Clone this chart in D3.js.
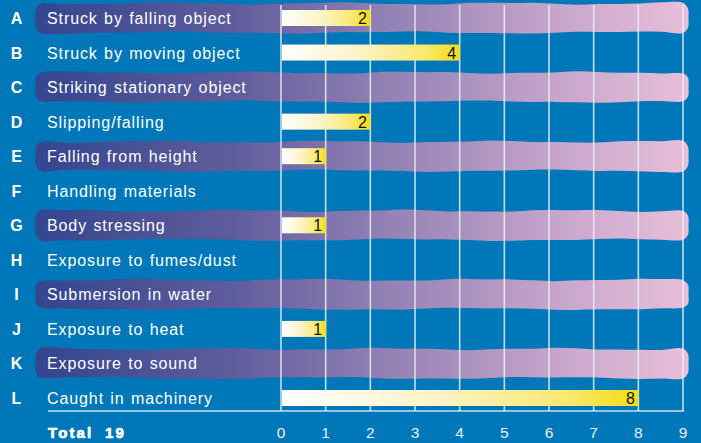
<!DOCTYPE html>
<html><head><meta charset="utf-8">
<script src="https://cdn.jsdelivr.net/npm/d3@7"></script>
<style>html,body{margin:0;padding:0;background:#0077b8;}svg{display:block;}</style>
</head><body>
<script>
const letters = ["A","B","C","D","E","F","G","H","I","J","K","L"];
const categories = ["Struck by falling object","Struck by moving object","Striking stationary object","Slipping/falling","Falling from height","Handling materials","Body stressing","Exposure to fumes/dust","Submersion in water","Exposure to heat","Exposure to sound","Caught in machinery"];
const values = [2,4,0,2,1,0,1,0,0,1,0,8];
const ticks = [0,1,2,3,4,5,6,7,8,9];
const totalLabel = "Total 19";

const W = 701, H = 443;
const svg = d3.select("body").append("svg").attr("width", W).attr("height", H);
svg.append("rect").attr("width", W).attr("height", H).attr("fill", "#0077b8");

const defs = svg.append("defs");
const bg = defs.append("linearGradient").attr("id","band").attr("gradientUnits","userSpaceOnUse")
  .attr("x1",36).attr("x2",688).attr("y1",0).attr("y2",0);
[[0,"#33468f"],[0.3,"#5f5c9c"],[0.55,"#9583b5"],[0.8,"#c7a5cb"],[1,"#e8bfd9"]].forEach(s=>bg.append("stop").attr("offset",s[0]).attr("stop-color",s[1]));
const yg = defs.append("linearGradient").attr("id","bar").attr("x1",0).attr("x2",1).attr("y1",0).attr("y2",0);
[[0,"#ffffff"],[0.45,"#fcf3c4"],[0.8,"#f9e870"],[1,"#f4dc12"]].forEach(s=>yg.append("stop").attr("offset",s[0]).attr("stop-color",s[1]));

const x = d3.scaleLinear().domain([0,9]).range([281,683]);
const y = d3.scalePoint().domain(letters).range([18,398]);
const font = "'Liberation Sans', Arial, sans-serif";

// softly wavy brush bands on alternate rows
function bandPath(cy, i){
  const x0 = 36, x1 = 688, h = 14.5, r = 5;
  const n = 30;
  const top = [], bot = [];
  for(let k=0;k<=n;k++){
    const px = x0 + r + (x1-x0-2*r)*k/n;
    top.push([px, cy - h + 0.9*Math.sin(k*0.8 + i*1.7) + 0.4*Math.sin(k*2.1+i)]);
    bot.push([px, cy + h + 0.9*Math.sin(k*0.6 + i*2.1+1) + 0.4*Math.sin(k*1.7+i*0.5)]);
  }
  const pts = [[x0, cy-h+r]].concat(top).concat([[x1, cy-h+r],[x1+0.5, cy],[x1, cy+h-r]])
    .concat(bot.reverse()).concat([[x0, cy+h-r],[x0-0.5, cy]]);
  return d3.line().curve(d3.curveCatmullRomClosed.alpha(0.5))(pts);
}
letters.forEach((l,i)=>{
  if(i%2===0){
    svg.append("path").attr("d", bandPath(y(l), i)).attr("fill","url(#band)");
  }
});

// gridlines
svg.selectAll("line.grid").data(ticks).enter().append("line")
  .attr("x1",d=>x(d)).attr("x2",d=>x(d)).attr("y1",5).attr("y2",411)
  .attr("stroke","#e8f0f8").attr("stroke-width",1.6).attr("opacity",0.85);
svg.append("line").attr("x1",48).attr("x2",x(9)+1).attr("y1",411).attr("y2",411)
  .attr("stroke","#e8f0f8").attr("stroke-width",1.6).attr("opacity",0.85);

// bars
const rows = letters.map((l,i)=>({l, c:categories[i], v:values[i]}));
const barH = 16;
svg.selectAll("rect.bar").data(rows.filter(r=>r.v>0)).enter().append("rect")
  .attr("x", x(0)+1).attr("y", d=>y(d.l)-barH/2)
  .attr("width", d=>x(d.v)-x(0)-1).attr("height", barH).attr("fill","url(#bar)");
svg.selectAll("text.val").data(rows.filter(r=>r.v>0)).enter().append("text")
  .attr("x", d=>x(d.v)-3.5).attr("y", d=>y(d.l)+6).attr("text-anchor","end")
  .attr("font-family",font).attr("font-size",16).attr("fill","#111").text(d=>d.v);

// letters and labels
svg.selectAll("text.let").data(rows).enter().append("text")
  .attr("x",16.5).attr("y",d=>y(d.l)+6).attr("text-anchor","middle")
  .attr("font-family",font).attr("font-weight","bold").attr("font-size",16).attr("fill","#fff").text(d=>d.l);
svg.selectAll("text.lab").data(rows).enter().append("text")
  .attr("x",47).attr("y",d=>y(d.l)+6)
  .attr("font-family",font).attr("font-size",16).attr("letter-spacing",0.9).attr("word-spacing",1).attr("fill","#fff").text(d=>d.c);

// axis ticks
svg.selectAll("text.tick").data(ticks).enter().append("text")
  .attr("x",d=>x(d)).attr("y",438).attr("text-anchor","middle")
  .attr("font-family",font).attr("font-size",15.5).attr("fill","#e8f0f8").text(d=>d);
svg.append("text").attr("x",48).attr("y",438).attr("font-family",font).attr("font-weight","bold")
  .attr("font-size",15).attr("letter-spacing",2.1).attr("word-spacing",5.5)
  .attr("fill","#fff").attr("stroke","#fff").attr("stroke-width",0.7).text(totalLabel);
</script>
</body></html>
